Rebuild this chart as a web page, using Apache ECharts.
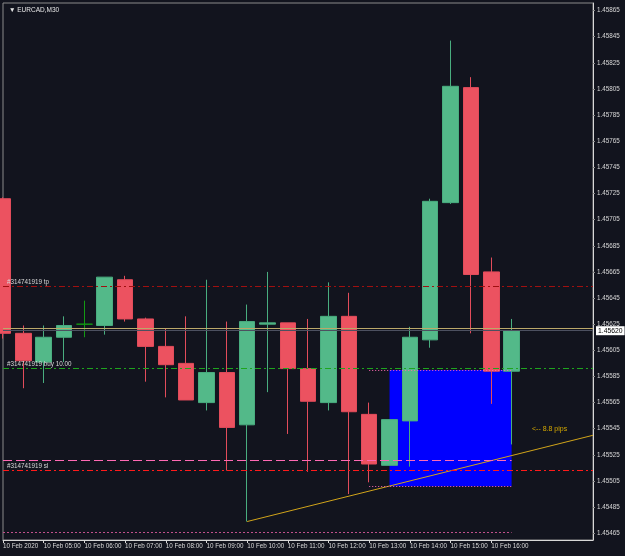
<!DOCTYPE html>
<html>
<head>
<meta charset="utf-8">
<script src="https://cdn.jsdelivr.net/npm/echarts@6/dist/echarts.min.js"></script>
<style>
html,body{margin:0;padding:0;background:#12141e;}
#c{width:625px;height:556px;}
</style>
</head>
<body>
<div id="c"></div>
<script>
// ---- categories (M30 bars, 10 Feb 2020) ----
var times = ['04:00','04:30','05:00','05:30','06:00','06:30','07:00','07:30','08:00','08:30',
             '09:00','09:30','10:00','10:30','11:00','11:30','12:00','12:30','13:00','13:30',
             '14:00','14:30','15:00','15:30','16:00','16:30','17:00','17:30','18:00','18:30'];
// ---- OHLC ----
var opens  = [1.45721,1.45618,1.45596,1.45615,1.45625,1.45624,1.45659,1.45629,1.45608,1.45595,
              1.45565,1.45588,1.45548,1.45625,1.45626,1.45591,1.45565,1.45631,1.45556,1.45517,
              1.45551,1.45613,1.45718,1.45806,1.45665,1.45589];
var closes = [1.45618,1.45597,1.45615,1.45624,1.45625,1.45661,1.45629,1.45608,1.45594,1.45567,
              1.45588,1.45546,1.45627,1.45626,1.45591,1.45566,1.45631,1.45558,1.45518,1.45552,
              1.45615,1.45719,1.45807,1.45663,1.45589,1.45620];
var lows   = [1.45614,1.45576,1.45580,1.45596,1.45615,1.45617,1.45627,1.45581,1.45569,1.45567,
              1.45559,1.45513,1.45474,1.45573,1.45541,1.45512,1.45559,1.45495,1.45504,1.45517,
              1.45516,1.45607,1.45717,1.45618,1.45564,1.45533];
var highs  = [1.45722,1.45624,1.45624,1.45631,1.45643,1.45661,1.45662,1.45630,1.45622,1.45631,
              1.45659,1.45627,1.45640,1.45665,1.45626,1.45629,1.45657,1.45649,1.45565,1.45552,
              1.45623,1.45721,1.45842,1.45814,1.45676,1.45629];
// ---- axis tick labels ----
var xTickTimes  = ['04:00','05:00','06:00','07:00','08:00','09:00','10:00','11:00','12:00','13:00','14:00','15:00','16:00'];
var xTickLabels = ['10 Feb 2020','10 Feb 05:00','10 Feb 06:00','10 Feb 07:00','10 Feb 08:00','10 Feb 09:00',
                   '10 Feb 10:00','10 Feb 11:00','10 Feb 12:00','10 Feb 13:00','10 Feb 14:00','10 Feb 15:00','10 Feb 16:00'];
var yTickLabels = ['1.45465','1.45485','1.45505','1.45525','1.45545','1.45565','1.45585','1.45605','1.45625',
                   '1.45645','1.45665','1.45685','1.45705','1.45725','1.45745','1.45765','1.45785','1.45805',
                   '1.45825','1.45845','1.45865'];
var yMin = 1.4545987, yMax = 1.4587074;
// ---- order / objects ----
var tpPrice = 1.45654, buyPrice = 1.45591, slPrice = 1.45513, pinkPrice = 1.45521;
var bidPrice = 1.45620, askPrice = 1.45622;
var boxStart = '13:30', boxEnd = '16:30', boxTop = 1.45590, boxBottom = 1.45501;
var edgeStart = '13:00';
var lowDotPrice = 1.45466;
var trendTimes = ['10:00','18:30'], trendValues = [1.45474, 1.45540];
var pipsText = '<-- 8.8 pips', pipsTime = '17:00', pipsPrice = 1.45545;
var orderId = '#314741919';

var candleData = opens.map(function(o,i){ return [o, closes[i], lows[i], highs[i]]; });
var trendData = trendTimes.map(function(t,i){ return [t, trendValues[i]]; });
var FONT = 'Liberation Sans, Arial, sans-serif';
var FS = 6.3;
var firstT = times[0], lastT = times[times.length - 1];

function hLine(price, color, type, labelText, labelExtra) {
  var lab = labelText ? Object.assign({show: true, position: 'insideStartTop', distance: [4, 1],
              formatter: labelText, fontSize: FS, fontFamily: FONT, color: '#d8d8d8'}, labelExtra || {})
            : {show: false};
  return [{coord: [firstT, price], lineStyle: {color: color, type: type, width: 1}, label: lab},
          {coord: [lastT, price]}];
}
function seg(t0, t1, price, color, type) {
  return [{coord: [t0, price], lineStyle: {color: color, type: type, width: 1}, label: {show: false}},
          {coord: [t1, price]}];
}

var chart = echarts.init(document.getElementById('c'), null, {renderer:'canvas'});
var tickIdx = function(i){ return xTickTimes.indexOf(times[i]) >= 0; };

chart.setOption({
  backgroundColor: '#12141e',
  animation: false,
  title: {text: '\u25BC EURCAD,M30', left: 4, top: 2,
          textStyle: {color:'#e6e6e6', fontSize: 6.5, fontWeight:'normal', fontFamily: FONT}},
  grid: {left: 3, right: 32, top: 3, bottom: 16, show: true, borderColor: '#8a8a8a', borderWidth: 1},
  xAxis: {
    type: 'category', data: times, boundaryGap: false,
    axisLine: {show: true, lineStyle: {color: '#d8d8d8', width: 1}},
    axisTick: {show: true, length: 3, interval: function(i){ return tickIdx(i); }, lineStyle: {color:'#d8d8d8'}},
    axisLabel: {interval: function(i){ return tickIdx(i); }, align: 'left', margin: 3,
                color: '#d8d8d8', fontSize: FS, fontFamily: FONT,
                formatter: function(v){ var k = xTickTimes.indexOf(v); return k >= 0 ? xTickLabels[k] : ''; }},
    splitLine: {show: false}
  },
  yAxis: {
    type: 'value', position: 'right', min: yMin, max: yMax, scale: true,
    axisLine: {show: true, lineStyle: {color: '#d8d8d8', width: 1}},
    axisTick: {show: true, length: 2, lineStyle: {color:'#8a8a8a'},
               customValues: yTickLabels.map(Number)},
    axisLabel: {color: '#d8d8d8', fontSize: FS, fontFamily: FONT, margin: 4,
                customValues: yTickLabels.map(Number),
                formatter: function(v){ return v.toFixed(5); }},
    splitLine: {show: false}
  },
  series: [
    {
      name: 'box', type: 'line', data: [], z: 1, silent: true,
      markArea: {silent: true, itemStyle: {color: '#0000ff', opacity: 1},
        data: [[{coord: [boxStart, boxTop]}, {coord: [boxEnd, boxBottom]}]]}
    },
    {
      name: 'trend', type: 'line', data: trendData, z: 2, silent: true,
      showSymbol: false, symbol: 'none',
      lineStyle: {color: '#d1a41a', width: 1},
      markLine: {
        silent: true, symbol: ['none','none'], animation: false,
        data: [
          hLine(tpPrice, '#a01010', [6,3,2,3], orderId + ' tp'),
          hLine(buyPrice, '#1ea51e', [6,3,2,3], orderId + ' buy 10.00'),
          hLine(slPrice, '#ff1a1a', [6,3,2,3], orderId + ' sl'),
          seg(firstT, boxEnd, pinkPrice, '#ff69b4', [9,4]),
          hLine(askPrice, '#bba86a', 'solid', null),
          hLine(bidPrice, '#4c5060', 'solid', bidPrice.toFixed(5),
                {position: 'end', distance: 3, backgroundColor: '#ffffff', color: '#000000',
                 fontSize: 6.8, padding: [1,2,1,2]}),
          seg(edgeStart, boxEnd, boxTop, '#ff69b4', [1,2]),
          seg(edgeStart, boxEnd, boxBottom, '#ff69b4', [1,2]),
          seg(firstT, boxEnd, lowDotPrice, '#c0508a', [2,2])
        ]
      },
      markPoint: {
        silent: true, symbol: 'circle', symbolSize: 0,
        data: [{coord: [pipsTime, pipsPrice],
                label: {show: true, position: 'right', distance: 0, formatter: pipsText,
                        color: '#d4a800', fontSize: 7, fontFamily: FONT}}]
      }
    },
    {
      name: 'EURCAD', type: 'candlestick', data: candleData, z: 3, clip: true,
      barWidth: 16,
      itemStyle: {
        color: '#53b989', color0: '#ec5260',
        borderColor: '#49ad7f', borderColor0: '#e24c5b',
        borderColorDoji: '#139a13', borderWidth: 1
      }
    }
  ]
});
</script>
</body>
</html>
